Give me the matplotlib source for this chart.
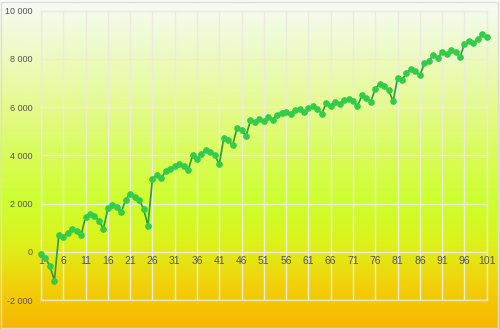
import numpy as np
import matplotlib
matplotlib.use('Agg')
import matplotlib.pyplot as plt
from matplotlib.colors import LinearSegmentedColormap
from matplotlib.ticker import FuncFormatter
from matplotlib.patches import Rectangle

plt.rcParams['font.family'] = ['Liberation Sans', 'DejaVu Sans']

#==============================================================================
# data
#==============================================================================
steps = np.arange(1, 102)
balance = [-80, -250, -590, -1185, 718, 620, 790, 955, 870, 705,
           1450, 1575, 1478, 1300, 955, 1810, 1950, 1870, 1660, 2160,
           2400, 2280, 2170, 1785, 1095, 3030, 3210, 3085, 3345, 3455,
           3550, 3665, 3550, 3385, 4000, 3870, 4065, 4245, 4135, 4000,
           3640, 4715, 4620, 4440, 5145, 5045, 4800, 5460, 5380, 5530,
           5435, 5600, 5490, 5685, 5770, 5810, 5700, 5875, 5905, 5795,
           5975, 6050, 5935, 5725, 6180, 6060, 6225, 6125, 6290, 6345,
           6250, 6045, 6485, 6390, 6225, 6765, 6970, 6870, 6695, 6250,
           7200, 7120, 7430, 7565, 7495, 7315, 7815, 7925, 8145, 8020,
           8285, 8200, 8355, 8300, 8075, 8615, 8740, 8645, 8810, 9020,
           8920]
xticks = list(range(1, 102, 5))
yticks = [-2000, 0, 2000, 4000, 6000, 8000, 10000]

#==============================================================================
# figure + gradient background
#==============================================================================
fig = plt.figure(figsize=(5, 3.29), dpi=100)

bg = fig.add_axes([0, 0, 1, 1], zorder=0)
grad_cmap = LinearSegmentedColormap.from_list('bg', [
    (0.00, (248/255, 250/255, 248/255)),
    (0.10, (240/255, 250/255, 215/255)),
    (0.30, (230/255, 250/255, 150/255)),
    (0.50, (215/255, 252/255, 80/255)),
    (0.62, (205/255, 255/255, 45/255)),
    (0.75, (222/255, 240/255, 25/255)),
    (0.87, (242/255, 208/255, 10/255)),
    (1.00, (248/255, 182/255, 0/255)),
])
bg.imshow(np.linspace(0, 1, 256).reshape(-1, 1), aspect='auto', cmap=grad_cmap,
          extent=[0, 1, 0, 1])
bg.set_xlim(0, 1)
bg.set_ylim(0, 1)
bg.axis('off')
fig.patches.append(Rectangle((0.002, 0.004), 0.994, 0.99, transform=fig.transFigure,
                             fill=False, edgecolor='#dddddd', linewidth=1))

ax = fig.add_axes([0.082, 0.0875, 0.8914, 0.8800], zorder=1)
ax.patch.set_alpha(0)

gridc = (0.92, 0.92, 0.88, 0.85)
ax.set_xlim(1, 101)
ax.set_ylim(-2000, 10000)
ax.set_xticks(xticks)
ax.set_yticks(yticks)
ax.grid(True, color=gridc, linewidth=1)
for s in ax.spines.values():
    s.set_color(gridc)
    s.set_linewidth(1)

ax.yaxis.set_major_formatter(FuncFormatter(lambda v, p: '{:,}'.format(int(v)).replace(',', ' ')))
ax.tick_params(axis='y', length=0, pad=6, labelsize=6.5, labelcolor='#555555')
ax.tick_params(axis='x', length=0, labelbottom=False)

# x labels sit just under the zero line
for t in xticks:
    ax.annotate(str(t), (t, 0), xytext=(0, -3), textcoords='offset points',
                ha='center', va='top', fontsize=7.5, color='#555555')

ax.plot(steps, balance, color='#2a9c3a', linewidth=1.2, marker='o', markersize=3.8,
        markerfacecolor='#33cc4a', markeredgecolor='#33cc4a', clip_on=False, zorder=3)

plt.savefig('out.png', dpi=100)
